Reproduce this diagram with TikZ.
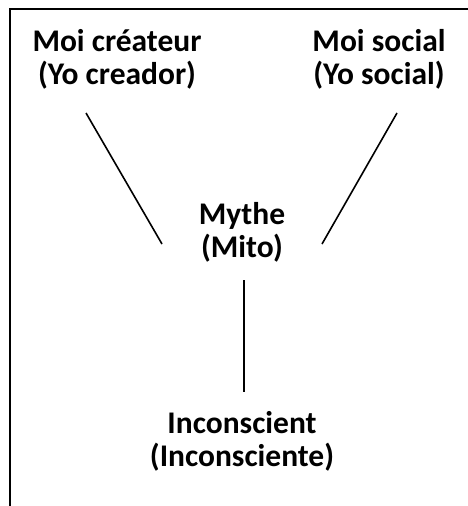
\documentclass[tikz,border=0pt]{standalone}
\usepackage{fontspec}
\setmainfont{Carlito}
\begin{document}
\begin{tikzpicture}[x=1pt,y=-1pt,
  lbl/.style={align=center,font=\bfseries\fontsize{31.5}{33}\selectfont,inner sep=0pt},
  conn/.style={line width=1.6pt}]
\useasboundingbox (0,0) rectangle (468,506);
\draw[line width=2pt] (10,510) -- (10,9) -- (472,9);
\node[lbl] (moi) at (117,59) {Moi créateur\\(Yo creador)};
\node[lbl] (social) at (379,59) {Moi social\\(Yo social)};
\node[lbl] (mythe) at (242,232) {Mythe\\(Mito)};
\node[lbl] (incons) at (242,441) {Inconscient\\(Inconsciente)};
\coordinate (a1) at (86,113);
\coordinate (a2) at (162,244);
\coordinate (b1) at (397,113);
\coordinate (b2) at (322,244);
\coordinate (c1) at (244,280);
\coordinate (c2) at (244,392);
\draw[conn] (a1) -- (a2);
\draw[conn] (b1) -- (b2);
\draw[conn] (c1) -- (c2);
\end{tikzpicture}
\end{document}
